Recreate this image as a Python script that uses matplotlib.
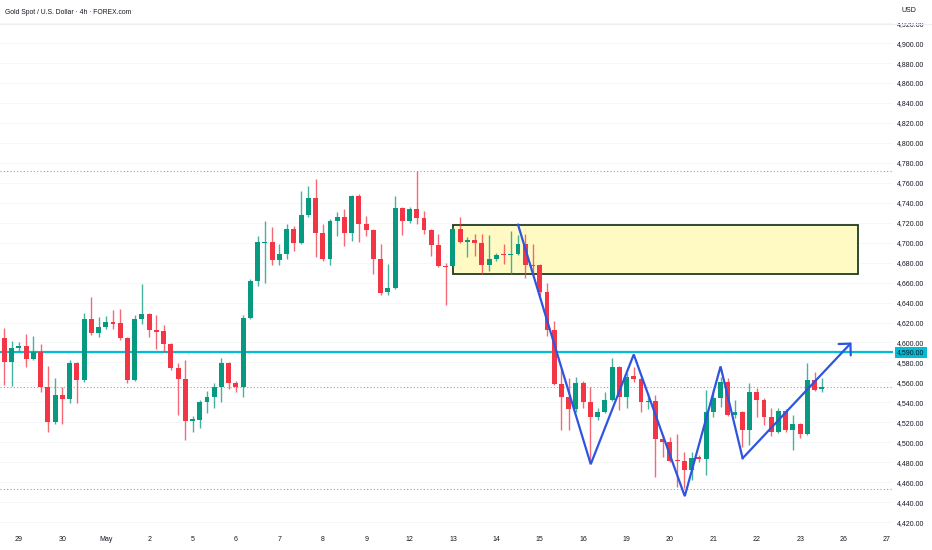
import matplotlib
matplotlib.use('Agg')
import matplotlib.pyplot as plt
from matplotlib.patches import Rectangle
from matplotlib.lines import Line2D
from matplotlib.ticker import FuncFormatter
import numpy as np

plt.rcParams['font.family'] = ['Liberation Sans', 'DejaVu Sans']

# ---------------- data ----------------
title = "Gold Spot / U.S. Dollar · 4h · FOREX.com"
first_index = -1
opens = [4632, 4604, 4580, 4594, 4596, 4583, 4590, 4555, 4520, 4547,
         4543, 4579, 4562, 4624, 4610, 4616, 4621, 4620, 4604, 4562,
         4624, 4629, 4613, 4612, 4598, 4574, 4563, 4521, 4522, 4540,
         4545, 4555, 4579, 4559, 4555, 4625, 4662, 4700, 4701, 4683,
         4689, 4714, 4700, 4728, 4745, 4710, 4684, 4722, 4726, 4710,
         4747, 4719, 4713, 4684, 4651, 4655, 4735, 4722, 4734, 4725,
         4713, 4698, 4677, 4677, 4714, 4701, 4703, 4700, 4678, 4684,
         4689, 4688, 4689, 4699, 4678, 4678, 4651, 4613, 4558, 4545,
         4533, 4559, 4540, 4525, 4530, 4542, 4575, 4545, 4566, 4563,
         4540, 4541, 4503, 4500, 4482, 4481, 4472, 4485, 4483, 4530,
         4544, 4560, 4527, 4530, 4512, 4550, 4542, 4525, 4510, 4531,
         4512, 4518, 4508, 4562, 4553]
highs = [4636, 4615, 4601, 4600, 4609, 4607, 4598, 4576, 4564, 4555,
         4582, 4580, 4630, 4646, 4626, 4627, 4633, 4634, 4605, 4628,
         4659, 4630, 4628, 4618, 4599, 4579, 4582, 4526, 4542, 4551,
         4559, 4584, 4580, 4561, 4628, 4664, 4707, 4722, 4716, 4699,
         4719, 4717, 4752, 4757, 4764, 4719, 4724, 4731, 4734, 4748,
         4749, 4727, 4714, 4699, 4679, 4747, 4736, 4736, 4772, 4732,
         4714, 4709, 4680, 4716, 4726, 4706, 4709, 4709, 4708, 4690,
         4699, 4712, 4708, 4709, 4699, 4679, 4660, 4622, 4574, 4564,
         4565, 4561, 4555, 4534, 4550, 4584, 4576, 4569, 4575, 4565,
         4549, 4547, 4507, 4505, 4508, 4490, 4490, 4487, 4552, 4552,
         4565, 4564, 4542, 4531, 4559, 4554, 4544, 4534, 4534, 4533,
         4527, 4519, 4579, 4570, 4564]
lows = [4600, 4557, 4556, 4591, 4575, 4582, 4550, 4510, 4518, 4518,
        4539, 4539, 4560, 4608, 4605, 4614, 4614, 4602, 4559, 4561,
        4619, 4606, 4593, 4590, 4572, 4527, 4502, 4510, 4514, 4529,
        4534, 4540, 4553, 4550, 4545, 4624, 4657, 4660, 4678, 4678,
        4684, 4692, 4699, 4726, 4686, 4682, 4678, 4707, 4697, 4702,
        4701, 4707, 4669, 4648, 4648, 4654, 4708, 4720, 4719, 4709,
        4687, 4676, 4638, 4676, 4700, 4686, 4687, 4669, 4672, 4682,
        4679, 4669, 4688, 4665, 4667, 4647, 4607, 4557, 4512, 4512,
        4530, 4534, 4482, 4522, 4529, 4541, 4532, 4534, 4560, 4530,
        4533, 4465, 4485, 4480, 4455, 4454, 4462, 4480, 4467, 4525,
        4535, 4526, 4524, 4495, 4497, 4525, 4517, 4506, 4509, 4510,
        4492, 4504, 4507, 4551, 4550]
closes = [4605, 4580, 4594, 4596, 4583, 4590, 4555, 4520, 4547, 4543,
          4579, 4562, 4624, 4610, 4616, 4621, 4619, 4604, 4562, 4624,
          4629, 4613, 4611, 4598, 4574, 4563, 4521, 4523, 4540, 4545,
          4555, 4579, 4559, 4555, 4625, 4662, 4701, 4701, 4683, 4689,
          4714, 4700, 4728, 4745, 4710, 4684, 4722, 4726, 4710, 4747,
          4719, 4713, 4684, 4650, 4655, 4735, 4722, 4734, 4725, 4713,
          4698, 4677, 4676, 4714, 4701, 4703, 4700, 4678, 4684, 4688,
          4688, 4689, 4699, 4678, 4677, 4651, 4613, 4558, 4545, 4533,
          4559, 4540, 4525, 4530, 4542, 4575, 4545, 4565, 4563, 4540,
          4541, 4503, 4500, 4481, 4481, 4472, 4484, 4483, 4530, 4544,
          4560, 4527, 4530, 4512, 4550, 4542, 4525, 4510, 4531, 4512,
          4518, 4508, 4562, 4552, 4555]

date_labels = ["29", "30", "May", "2", "5", "6", "7", "8", "9", "12", "13",
               "14", "15", "16", "19", "20", "21", "22", "23", "26", "27"]
first_label_bar = 2
bars_per_day = 6

resistance = 4590
dotted_levels = [4772, 4555, 4453]

zone_start, zone_end = 61.97, 118.0
zone_low, zone_high = 4669, 4718

zig_k = [71.0, 81.05, 87.0, 94.05, 99.0, 102.05, 117.1]
zig_p = [4718, 4478, 4588, 4446, 4576, 4484, 4600]

# ---------------- figure ----------------
W, H = 932, 550
fig = plt.figure(figsize=(W / 100, H / 100), dpi=100)
fig.patch.set_facecolor('white')
ax = fig.add_axes([0, 20 / H, 893 / W, 530 / H])
ax.set_facecolor('white')

o = np.array(opens, float)
h = np.array(highs, float)
l = np.array(lows, float)
c = np.array(closes, float)
idx = np.arange(first_index, first_index + len(o))

up_col, dn_col = '#089981', '#f23645'
cols = [up_col if cc >= oo else dn_col for oo, cc in zip(o, c)]

ax.vlines(idx, l, h, colors=cols, lw=1.0, alpha=0.75, zorder=2)
ax.bar(idx, np.maximum(np.abs(c - o), 0.9), bottom=np.minimum(o, c), width=0.68,
       color=cols, linewidth=0, zorder=3)

ax.add_patch(Rectangle((zone_start, zone_low), zone_end - zone_start, zone_high - zone_low,
                       facecolor='#fff9c4', edgecolor='#1f3b24', lw=1.3, zorder=1))

for lv in dotted_levels:
    ax.axhline(lv, color='#9aa0ab', lw=0.8, ls=(0, (1, 2)), zorder=0.8)

ax.axhline(resistance, color='#00bcd4', lw=1.6, zorder=1.8)

blue = '#2f55e0'
ax.plot(zig_k[:-1], zig_p[:-1], color=blue, lw=1.6, zorder=4, solid_joinstyle='miter')
ax.annotate('', xy=(zig_k[-1], zig_p[-1]), xytext=(zig_k[-2], zig_p[-2]),
            arrowprops=dict(arrowstyle='->,head_length=0.6,head_width=0.6', color=blue,
                            lw=1.6, shrinkA=0, shrinkB=0), zorder=4)

# price-tag of the resistance line
ax.annotate(f"{resistance:,.2f}", xy=(1, resistance), xycoords=('axes fraction', 'data'),
            xytext=(4, 0), textcoords='offset pixels', ha='left', va='center',
            fontsize=5, color='#131722', annotation_clip=False, zorder=6,
            bbox=dict(boxstyle='square,pad=0.35', fc='#00bcd4', ec='none'))

ax.set_xlim(-0.62, 122.84)
ax.set_ylim(4412.1, 4943.2)

ax.set_yticks(np.arange(4420, 4941, 20))
ax.yaxis.set_major_formatter(FuncFormatter(lambda v, p: f"{v:,.2f}"))
ax.yaxis.tick_right()
ax.tick_params(axis='y', length=0, pad=3, labelsize=5, labelcolor='#131722')

ax.set_xticks(first_label_bar + bars_per_day * np.arange(len(date_labels)))
ax.set_xticklabels(date_labels)
ax.tick_params(axis='x', length=0, pad=4.5, labelsize=5, labelcolor='#131722')

ax.grid(axis='y', color='#f6f7f9', lw=0.7)
ax.set_axisbelow(True)
for s in ax.spines.values():
    s.set_visible(False)

# header band
fig.add_artist(Rectangle((0, 1 - 23 / H), 1, 23 / H, transform=fig.transFigure,
                         facecolor='white', edgecolor='none', zorder=10))
fig.add_artist(Line2D([0, 1], [1 - 23.5 / H] * 2, transform=fig.transFigure,
                      color='#eceff3', lw=0.8, zorder=11))
fig.text(5 / W, 1 - 13 / H, title, fontsize=4.9, color='#131722',
         ha='left', va='center', zorder=12)
fig.text(909 / W, 1 - 11 / H, 'USD', fontsize=5, color='#131722',
         ha='center', va='center', zorder=12)

fig.savefig('out.png', dpi=100, facecolor='white')
